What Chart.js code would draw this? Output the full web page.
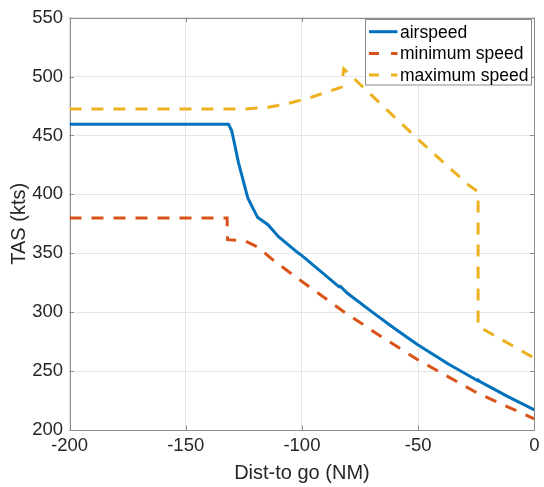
<!DOCTYPE html>
<html>
<head>
<meta charset="utf-8">
<script src="https://cdn.jsdelivr.net/npm/chart.js@4/dist/chart.umd.min.js"></script>
<style>
  html, body { margin: 0; padding: 0; background: #ffffff; }
  #wrap { width: 544px; height: 487px; }
</style>
</head>
<body>
<div id="wrap"><canvas id="c" width="544" height="487"></canvas></div>
<script>
// ---- data ----
const seriesLabels = ['airspeed', 'minimum speed', 'maximum speed'];

const airDist  = [-200, -131.6, -130.2, -127.3, -123.3, -119.1, -114.5, -110.2, -101.7, -100, -84.5, -84, -83.5, -80.4, -69.7, -60, -50.5, -37, -24.5, -24.2, -23.8, -12, 0];
const airTas   = [459.5, 459.5, 454, 427, 397, 380.5, 374, 364.3, 350.4, 348, 322.3, 321.6, 322, 316, 300, 286, 272.8, 256, 242, 242.5, 241.5, 229, 217];

const minDist  = [-200, -132.2, -132, -124.5, -118.8, -111.6, -101.7, -81.7, -67.6, -50.5, -24.2, 0];
const minTas   = [380, 380, 361.5, 360.5, 355, 343, 328.5, 300, 281.5, 260, 231, 209.5];

const maxDist  = [-200, -124.4, -114.5, -106, -96, -83, -82, -50, -28.5, -24.2, -24.2, 0];
const maxTas   = [472.5, 472.5, 474, 477, 482.4, 491, 506.5, 446.6, 408.2, 402, 288, 261];

const xTickValues = [-200, -150, -100, -50, 0];
const yTickValues = [200, 250, 300, 350, 400, 450, 500, 550];

const xTitle = 'Dist-to go (NM)';
const yTitle = 'TAS (kts)';

// ---- helpers ----
function pairs(xs, ys) { return xs.map((x, i) => ({ x: x, y: ys[i] })); }

const FONT = "'Liberation Sans', Helvetica, Arial, sans-serif";
const TEXT = '#262626';
const AXIS = '#8c8c8c';

const boxPlugin = {
  id: 'matlabBox',
  beforeDatasetsDraw(chart) {
    const { ctx, chartArea: a } = chart;
    const xs = chart.scales.x, ys = chart.scales.y;
    ctx.save();
    ctx.strokeStyle = AXIS;
    ctx.lineWidth = 1;
    ctx.beginPath();
    ctx.rect(Math.round(a.left) + 0.5, Math.round(a.top) + 0.5,
             Math.round(a.right) - Math.round(a.left), Math.round(a.bottom) - Math.round(a.top));
    ctx.stroke();
    const tl = 4.5;
    ctx.beginPath();
    xTickValues.forEach(v => {
      const px = Math.round(xs.getPixelForValue(v)) + 0.5;
      ctx.moveTo(px, a.bottom); ctx.lineTo(px, a.bottom - tl);
      ctx.moveTo(px, a.top); ctx.lineTo(px, a.top + tl);
    });
    yTickValues.forEach(v => {
      const py = Math.round(ys.getPixelForValue(v)) + 0.5;
      ctx.moveTo(a.left, py); ctx.lineTo(a.left + tl, py);
      ctx.moveTo(a.right, py); ctx.lineTo(a.right - tl, py);
    });
    ctx.stroke();
    ctx.restore();
  }
};

const legendPlugin = {
  id: 'boxLegend',
  afterDraw(chart) {
    const { ctx, chartArea: a } = chart;
    const w = 166, h = 65.5;
    const bx = Math.round(a.right - 3 - w) + 0.5;
    const by = Math.round(a.top + 1.6) + 0.5;
    ctx.save();
    ctx.fillStyle = '#ffffff';
    ctx.fillRect(bx, by, w, h);
    ctx.strokeStyle = '#8c8c8c';
    ctx.lineWidth = 1;
    ctx.strokeRect(bx, by, w, h);
    ctx.font = '17.5px ' + FONT;
    ctx.textBaseline = 'middle';
    ctx.textAlign = 'left';
    chart.data.datasets.forEach((ds, i) => {
      const ry = by + 12.2 + i * 21.7;
      ctx.strokeStyle = ds.borderColor;
      ctx.lineWidth = ds.borderWidth;
      ctx.setLineDash(ds.borderDash ? [10, 12] : []);
      ctx.beginPath();
      ctx.moveTo(bx + 3.5, ry);
      ctx.lineTo(bx + 32, ry);
      ctx.stroke();
      ctx.setLineDash([]);
      ctx.fillStyle = '#000000';
      ctx.fillText(ds.label, bx + 34.5, ry + 1);
    });
    ctx.restore();
  }
};

new Chart(document.getElementById('c'), {
  type: 'line',
  data: {
    datasets: [
      { label: seriesLabels[0], data: pairs(airDist, airTas), borderColor: '#0072BD', borderWidth: 3, pointRadius: 0, tension: 0, fill: false },
      { label: seriesLabels[1], data: pairs(minDist, minTas), borderColor: '#D95319', borderWidth: 3, borderDash: [12, 10], pointRadius: 0, tension: 0, fill: false },
      { label: seriesLabels[2], data: pairs(maxDist, maxTas), borderColor: '#EDB120', borderWidth: 3, borderDash: [12, 10], pointRadius: 0, tension: 0, fill: false }
    ]
  },
  options: {
    responsive: false,
    animation: false,
    devicePixelRatio: 1,
    layout: { padding: { left: 0, right: 5.5, top: 12.7, bottom: 0 } },
    plugins: { legend: { display: false }, tooltip: { enabled: false } },
    scales: {
      x: {
        type: 'linear', min: -200, max: 0,
        afterBuildTicks(scale) { scale.ticks = xTickValues.map(v => ({ value: v })); },
        afterFit(scale) { scale.height = 57; },
        grid: { color: '#e6e6e6', drawTicks: false, lineWidth: 1 },
        border: { display: false },
        ticks: { padding: 4.5, maxRotation: 0, autoSkip: false, color: TEXT, font: { family: FONT, size: 18.5 } },
        title: { display: true, text: xTitle, color: TEXT, font: { family: FONT, size: 20 }, padding: { top: 0, bottom: 1.5 } }
      },
      y: {
        type: 'linear', min: 200, max: 550,
        afterBuildTicks(scale) { scale.ticks = yTickValues.map(v => ({ value: v })); },
        afterFit(scale) { scale.width = 69.5; },
        grid: { color: '#e6e6e6', drawTicks: false, lineWidth: 1 },
        border: { display: false },
        ticks: { padding: 6.5, autoSkip: false, color: TEXT, font: { family: FONT, size: 18.5 } },
        title: { display: true, text: yTitle, color: TEXT, font: { family: FONT, size: 20 }, padding: { top: 7, bottom: 0 } }
      }
    }
  },
  plugins: [boxPlugin, legendPlugin]
});
</script>
</body>
</html>
